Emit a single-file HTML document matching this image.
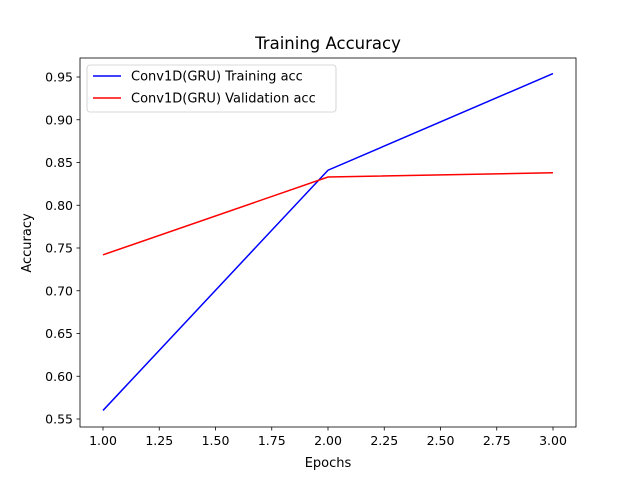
<!DOCTYPE html>
<html><head><meta charset="utf-8"><style>
body{margin:0;background:#fff;}
svg{display:block;font-family:"DejaVu Sans","Liberation Sans",sans-serif;}
</style></head><body>
<svg id="chart" width="640" height="480">
<rect x="0" y="0" width="640" height="480" fill="#fff"/>
<text x="328" y="49" font-size="16.5" text-anchor="middle">Training Accuracy</text>
<g id="plot"></g>
<text x="328" y="467" font-size="13" text-anchor="middle">Epochs</text>
<text transform="translate(31,243) rotate(-90)" font-size="13" text-anchor="middle">Accuracy</text>
</svg>
<script>
const epochs=[1,2,3];
const trainAcc=[0.560,0.841,0.954];
const valAcc=[0.742,0.833,0.838];
const xTicks=[1.00,1.25,1.50,1.75,2.00,2.25,2.50,2.75,3.00];
const yTicks=[0.55,0.60,0.65,0.70,0.75,0.80,0.85,0.90,0.95];
const seriesNames=["Conv1D(GRU) Training acc","Conv1D(GRU) Validation acc"];
const NS="http://www.w3.org/2000/svg";
const L=80,R=576,T=58,B=427;
const xs=v=>103+(v-1)*225;
const ys=v=>419-(v-0.55)*855;
const g=document.getElementById('plot');
function mk(t,a,p){const e=document.createElementNS(NS,t);for(const k in a)e.setAttribute(k,a[k]);(p||g).appendChild(e);return e;}
xTicks.forEach(v=>{
 const x=xs(v);
 const l=mk('line',{x1:x,x2:x,y1:B,y2:B+3.5,stroke:'#000','stroke-width':0.8});
 
 
 const t=mk('text',{x:x,y:B+18,'font-size':12.5,'text-anchor':'middle'});
 t.textContent=v.toFixed(2);
 
 
});
yTicks.forEach(v=>{
 const y=ys(v);
 const l=mk('line',{x1:L-3.5,x2:L,y1:y,y2:y,stroke:'#000','stroke-width':0.8});
 
 
 const t=mk('text',{x:L-7,y:y+4.5,'font-size':12.5,'text-anchor':'end'});
 t.textContent=v.toFixed(2);
 
 
});
function line(vals,color,name){
 const p=mk('polyline',{points:epochs.map((e,i)=>xs(e)+','+ys(vals[i])).join(' '),fill:'none',stroke:color,'stroke-width':1.5});
 
 
}
line(trainAcc,'#0000ff','training-acc-line');
line(valAcc,'#ff0000','validation-acc-line');
const frame=mk('rect',{x:L,y:T,width:R-L,height:B-T,fill:'none',stroke:'#000','stroke-width':0.8});


const lg=mk('g',{});


mk('rect',{x:87,y:65,width:249,height:47,rx:3,fill:'#fff',stroke:'#ccc','stroke-width':0.8},lg);
['#0000ff','#ff0000'].forEach((c,i)=>{
 const y=76+i*22;
 const e=mk('g',{},lg);
 
 
 mk('line',{x1:93,x2:121,y1:y,y2:y,stroke:c,'stroke-width':1.5},e);
 const t=mk('text',{x:131,y:y+4.5,'font-size':13},e);
 t.textContent=seriesNames[i];
});
</script>
</body></html>
